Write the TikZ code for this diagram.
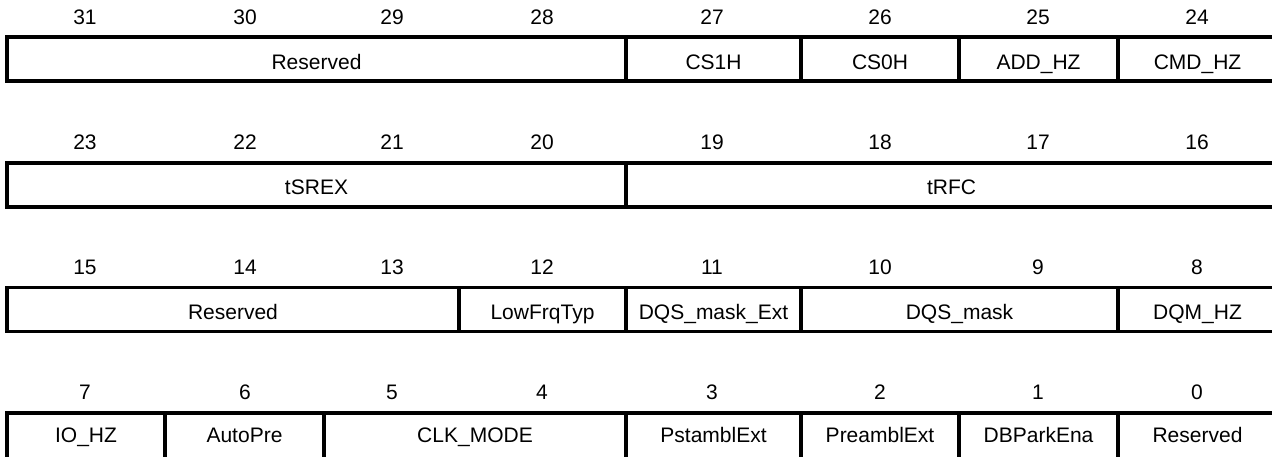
\documentclass[tikz,border=0pt]{standalone}
\usepackage{fontspec}
\setmainfont{Liberation Sans}
\begin{document}
\begin{tikzpicture}[x=0.5pt,y=-0.5pt]
\tikzset{
  regtext/.style={font=\fontsize{10.5pt}{12pt}\selectfont},
  cell/.style={regtext, draw=black, line width=1.85pt, rectangle,
    inner sep=0pt, outer sep=0pt, minimum height=22pt, anchor=north west,
    text height=10pt, text depth=0pt},
  lastrow/.style={minimum height=23pt, text height=8pt, text depth=1pt},
  bitno/.style={regtext, anchor=base, inner sep=0pt},
}
% one register field: name, left edge, right edge, top edge, caption
\newcommand\regfield[6][]{%
  \node[cell,#1, minimum width={(#4-#3)*0.5pt}] (#2) at (#3,#5) {#6};}
\useasboundingbox (0,0) rectangle (1272,456);
\clip (0,0) rectangle (1272,456);

% bit numbers above each row
\foreach \t [count=\r from 0] in {37,162.7,287.5,412.7}
  \foreach \x [count=\c from 0] in {85,245,392,542,712,880,1038,1197}{
    \pgfmathtruncatemacro\bit{31-8*\r-\c}
    \node[bitno] (b\bit) at (\x,{\t-13}) {\bit};
  }

% bits 31..24
\regfield{rsvda}{7}{626}{37}{Reserved}
\regfield{csoneh}{626}{801}{37}{CS1H}
\regfield{cszeroh}{801}{959}{37}{CS0H}
\regfield{addhz}{959}{1118}{37}{ADD\_HZ}
\regfield{cmdhz}{1118}{1277}{37}{CMD\_HZ}

% bits 23..16
\regfield{tsrex}{7}{626}{162.7}{tSREX}
\regfield{trfc}{626}{1277}{162.7}{tRFC}

% bits 15..8
\regfield{rsvdb}{7}{459}{287.5}{Reserved}
\regfield{lowfrq}{459}{626}{287.5}{LowFrqTyp}
\regfield{dqsext}{626}{801}{287.5}{DQS\_mask\_Ext}
\regfield{dqsmask}{801}{1118}{287.5}{DQS\_mask}
\regfield{dqmhz}{1118}{1277}{287.5}{DQM\_HZ}

% bits 7..0
\regfield[lastrow]{iohz}{7}{165}{412.7}{IO\_HZ}
\regfield[lastrow]{autopre}{165}{324}{412.7}{AutoPre}
\regfield[lastrow]{clkmode}{324}{626}{412.7}{CLK\_MODE}
\regfield[lastrow]{pstambl}{626}{801}{412.7}{PstamblExt}
\regfield[lastrow]{preambl}{801}{959}{412.7}{PreamblExt}
\regfield[lastrow]{dbpark}{959}{1118}{412.7}{DBParkEna}
\regfield[lastrow]{rsvdc}{1118}{1277}{412.7}{Reserved}
\end{tikzpicture}
\end{document}
